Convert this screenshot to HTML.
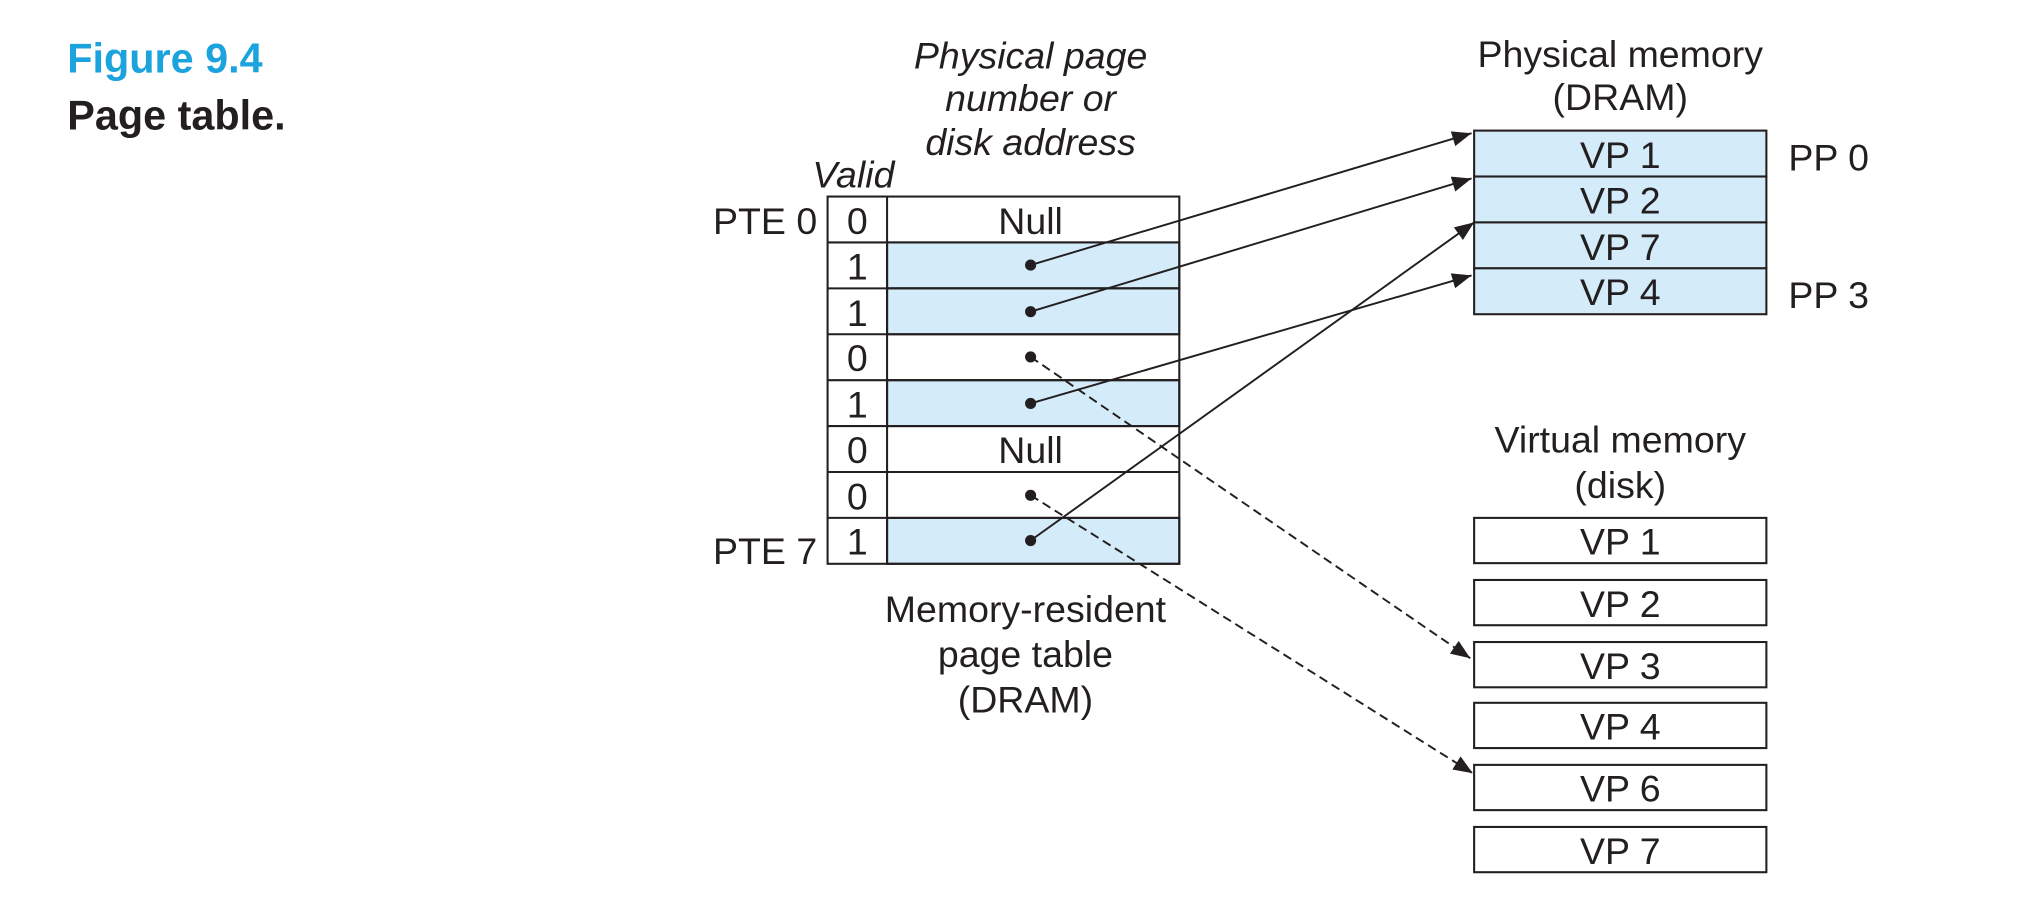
<!DOCTYPE html>
<html><head><meta charset="utf-8"><style>
html,body{margin:0;padding:0;background:#fff;}
svg{display:block;}
text{font-family:"Liberation Sans",sans-serif;fill:#231f20;}
</style></head><body>
<svg width="2025" height="911" viewBox="0 0 1566 704.5" preserveAspectRatio="none" xmlns="http://www.w3.org/2000/svg">
<defs>
<marker id="ah" viewBox="0 0 10 10" refX="10" refY="5" markerWidth="15" markerHeight="15" markerUnits="userSpaceOnUse" orient="auto">
<path d="M0,1 L10,5 L0,9 z" fill="#231f20"/>
</marker>
</defs>
<text x="52" y="56" font-size="32" font-weight="bold" style="fill:#1aa3dd">Figure 9.4</text>
<text x="52" y="100" font-size="32" font-weight="bold">Page table.</text>

<g font-size="29" font-style="italic" text-anchor="middle">
<text x="797" y="53">Physical page</text>
<text x="797" y="86">number or</text>
<text x="797" y="120">disk address</text>
<text x="660" y="145">Valid</text>
</g>

<!-- page table -->
<g stroke="#231f20" stroke-width="1.6">
<rect x="686" y="187.5" width="226" height="35.5" fill="#d4ecf9"/>
<rect x="686" y="223" width="226" height="35.5" fill="#d4ecf9"/>
<rect x="686" y="294" width="226" height="35.5" fill="#d4ecf9"/>
<rect x="686" y="400.5" width="226" height="35.5" fill="#d4ecf9"/>
<rect x="640" y="152" width="272" height="284" fill="none"/>
<line x1="686" y1="152" x2="686" y2="436"/>
<line x1="640" y1="187.5" x2="912" y2="187.5"/>
<line x1="640" y1="223" x2="912" y2="223"/>
<line x1="640" y1="258.5" x2="912" y2="258.5"/>
<line x1="640" y1="294" x2="912" y2="294"/>
<line x1="640" y1="329.5" x2="912" y2="329.5"/>
<line x1="640" y1="365" x2="912" y2="365"/>
<line x1="640" y1="400.5" x2="912" y2="400.5"/>
</g>
<g font-size="29" text-anchor="middle">
<text x="663" y="181">0</text>
<text x="663" y="216">1</text>
<text x="663" y="252">1</text>
<text x="663" y="287">0</text>
<text x="663" y="323">1</text>
<text x="663" y="358">0</text>
<text x="663" y="394">0</text>
<text x="663" y="429">1</text>
<text x="797" y="181">Null</text>
<text x="797" y="358">Null</text>
</g>
<g font-size="29" text-anchor="end">
<text x="632" y="181">PTE 0</text>
<text x="632" y="436">PTE 7</text>
</g>
<g font-size="29" text-anchor="middle">
<text x="793" y="481">Memory-resident</text>
<text x="793" y="516">page table</text>
<text x="793" y="551">(DRAM)</text>
</g>

<!-- physical memory -->
<g font-size="29" text-anchor="middle">
<text x="1253" y="52">Physical memory</text>
<text x="1253" y="85">(DRAM)</text>
</g>
<g stroke="#231f20" stroke-width="1.6" fill="#d4ecf9">
<rect x="1140" y="101" width="226" height="35.5"/>
<rect x="1140" y="136.5" width="226" height="35.5"/>
<rect x="1140" y="172" width="226" height="35.5"/>
<rect x="1140" y="207.5" width="226" height="35.5"/>
</g>
<g font-size="29" text-anchor="middle">
<text x="1253" y="130">VP 1</text>
<text x="1253" y="165">VP 2</text>
<text x="1253" y="201">VP 7</text>
<text x="1253" y="236">VP 4</text>
</g>
<text x="1383" y="132" font-size="29">PP 0</text>
<text x="1383" y="238" font-size="29">PP 3</text>

<!-- virtual memory -->
<g font-size="29" text-anchor="middle">
<text x="1253" y="350">Virtual memory</text>
<text x="1253" y="385">(disk)</text>
</g>
<g stroke="#231f20" stroke-width="1.6" fill="#fff">
<rect x="1140" y="400.5" width="226" height="35"/>
<rect x="1140" y="448.5" width="226" height="35"/>
<rect x="1140" y="496.5" width="226" height="35"/>
<rect x="1140" y="543.5" width="226" height="35"/>
<rect x="1140" y="591.5" width="226" height="35"/>
<rect x="1140" y="639.5" width="226" height="35"/>
</g>
<g font-size="29" text-anchor="middle">
<text x="1253" y="429">VP 1</text>
<text x="1253" y="477">VP 2</text>
<text x="1253" y="525">VP 3</text>
<text x="1253" y="572">VP 4</text>
<text x="1253" y="620">VP 6</text>
<text x="1253" y="668">VP 7</text>
</g>

<!-- dots -->
<g fill="#231f20">
<circle cx="797" cy="205" r="4.3"/>
<circle cx="797" cy="241" r="4.3"/>
<circle cx="797" cy="276" r="4.3"/>
<circle cx="797" cy="312" r="4.3"/>
<circle cx="797" cy="383" r="4.3"/>
<circle cx="797" cy="418" r="4.3"/>
</g>
<!-- arrows -->
<g stroke="#231f20" stroke-width="1.5" fill="none">
<line x1="797" y1="205" x2="1138" y2="103" marker-end="url(#ah)"/>
<line x1="797" y1="241" x2="1138" y2="138" marker-end="url(#ah)"/>
<line x1="797" y1="312" x2="1138" y2="213" marker-end="url(#ah)"/>
<line x1="797" y1="418" x2="1140" y2="172" marker-end="url(#ah)"/>
<line x1="797" y1="276" x2="1137" y2="509" stroke-dasharray="7,4" marker-end="url(#ah)"/>
<line x1="797" y1="383" x2="1139" y2="598" stroke-dasharray="7,4" marker-end="url(#ah)"/>
</g>
</svg>
</body></html>
